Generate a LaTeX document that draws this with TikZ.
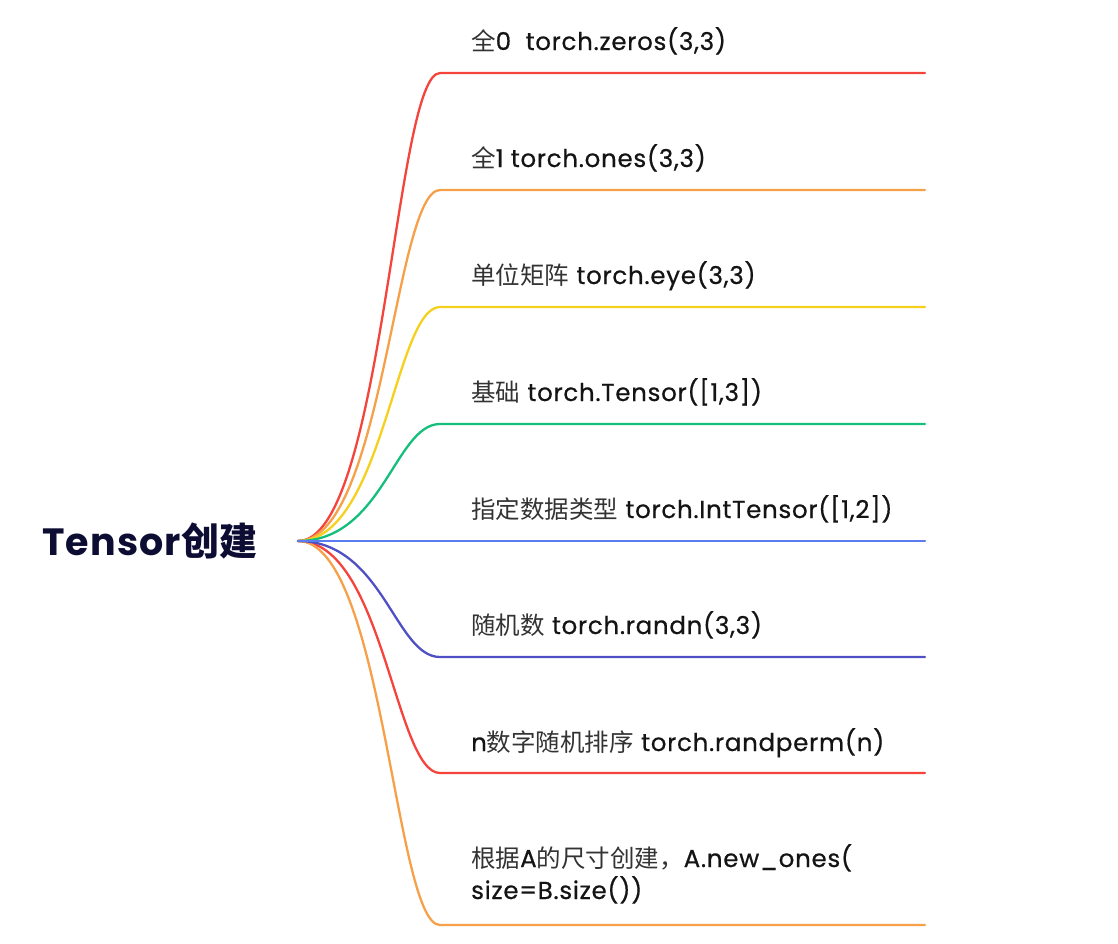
\documentclass[tikz,border=0pt]{standalone}
\usepackage{fontspec}
\setmainfont{Poppins}[LetterSpace=3, UprightFeatures={FakeBold=0.6}]
\newfontfamily\cjk{Noto Sans CJK SC}
\newcommand{\zh}[1]{{\cjk\color{zhgray}#1}}
\definecolor{zhgray}{HTML}{333333}
\definecolor{rootnavy}{HTML}{0D0D33}
\definecolor{mapred}{HTML}{F5443B}
\definecolor{maporange}{HTML}{F7A04A}
\definecolor{mapyellow}{HTML}{F5D11E}
\definecolor{mapgreen}{HTML}{16BE7C}
\definecolor{mapblue}{HTML}{5A7CF0}
\definecolor{mapindigo}{HTML}{4F4FC6}
\begin{document}
\begin{tikzpicture}[x=1pt,y=-1pt]
		\tikzset{branch/.style = {line width=2.3pt, line cap=round},
			leaf/.style = {anchor=base west, inner sep=0pt, font=\fontsize{24.5}{32}\selectfont, text=black!92}}

		\useasboundingbox (0,0) rectangle (1118,943);

		\node[anchor=west, inner sep=0pt, text=rootnavy, font=\fontsize{38}{44}\selectfont\bfseries] (Root) at (42,541) {Tensor{\cjk 创建}};
		\coordinate (R) at (298,541);

		\coordinate (S_1) at (440,73);
		\coordinate (S_2) at (440,190);
		\coordinate (S_3) at (440,307);
		\coordinate (S_4) at (440,424);
		\coordinate (S_5) at (440,541);
		\coordinate (S_6) at (440,657);
		\coordinate (S_7) at (440,773);
		\coordinate (S_8) at (440,925);

		\coordinate (T_1) at (925,73);
		\coordinate (T_2) at (925,190);
		\coordinate (T_3) at (925,307);
		\coordinate (T_4) at (925,424);
		\coordinate (T_5) at (925,541);
		\coordinate (T_6) at (925,657);
		\coordinate (T_7) at (925,773);
		\coordinate (T_8) at (925,925);

		\node[leaf] (L_1) at (471,50) {\zh{全}0\ \ torch.zeros(3,3)};
		\node[leaf] (L_2) at (471,167) {\zh{全}1 torch.ones(3,3)};
		\node[leaf] (L_3) at (471,284) {\zh{单位矩阵} torch.eye(3,3)};
		\node[leaf] (L_4) at (471,401) {\zh{基础} torch.Tensor([1,3])};
		\node[leaf] (L_5) at (471,518) {\zh{指定数据类型} torch.IntTensor([1,2])};
		\node[leaf] (L_6) at (471,634) {\zh{随机数} torch.randn(3,3)};
		\node[leaf] (L_7) at (471,751) {n\zh{数字随机排序} torch.randperm(n)};
		\node[leaf, align=left] (L_8) at (471,899) {\zh{根据}A\zh{的尺寸创建，}A.new\_ones(\\size=B.size())};

		%branches
		\draw[branch, mapred] (R) .. controls +(85,0) and +(-45,0) .. (S_1) -- (T_1);
		\draw[branch, maporange] (R) .. controls +(85,0) and +(-45,0) .. (S_2) -- (T_2);
		\draw[branch, mapyellow] (R) .. controls +(85,0) and +(-45,0) .. (S_3) -- (T_3);
		\draw[branch, mapgreen] (R) .. controls +(85,0) and +(-45,0) .. (S_4) -- (T_4);
		\draw[branch, mapred] (R) .. controls +(85,0) and +(-45,0) .. (S_7) -- (T_7);
		\draw[branch, maporange] (R) .. controls +(85,0) and +(-45,0) .. (S_8) -- (T_8);
		\draw[branch, mapindigo] (R) .. controls +(85,0) and +(-45,0) .. (S_6) -- (T_6);
		\draw[branch, mapblue] (R) -- (S_5) -- (T_5);

	\end{tikzpicture}
\end{document}
